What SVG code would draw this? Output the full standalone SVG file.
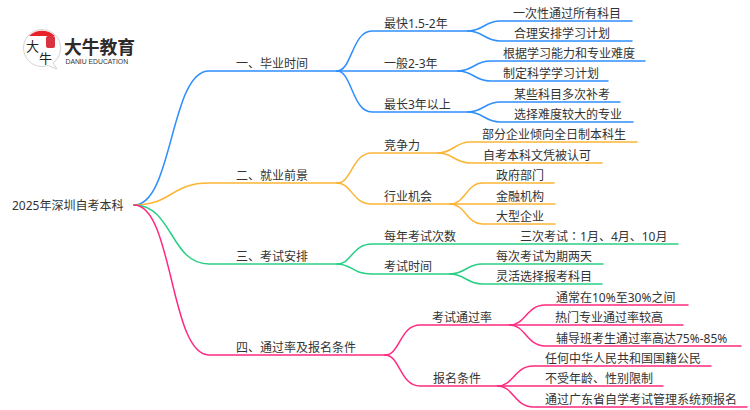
<svg xmlns="http://www.w3.org/2000/svg" width="750" height="410" viewBox="0 0 750 410">
<style>
text{font-family:"Noto Sans","Noto Sans CJK SC",sans-serif;font-size:12px;fill:#333}
.c path{fill:none;stroke-width:1.5;stroke-linecap:round}
.b path{stroke:#2f8fff}.o path{stroke:#fbb534}.g path{stroke:#28cf85}.p path{stroke:#ff2a7f}
</style>
<rect width="750" height="410" fill="#fff"/>
<g id="logo">
<path d="M42 29.500a18.500 18.500 0 1 0 6 36l9 3.500-4-6a18.500 18.500 0 0 0-11-33.500z" fill="#fff" stroke="#c9c9c9" stroke-width=".8"/>
<path d="M29 36a18.500 18.500 0 0 1 26 0z" fill="#e8242a"/>
<rect x="46" y="36" width="9" height="12" rx="2" fill="#d8333f"/>
<text x="26" y="51" style="font-size:13px;fill:#222;font-family:'Liberation Sans','Noto Sans CJK SC',sans-serif">大</text>
<text x="39" y="63" style="font-size:13px;fill:#222;font-family:'Liberation Sans','Noto Sans CJK SC',sans-serif">牛</text>
<text x="64" y="54" style="font-size:17.800px;font-weight:700;fill:#2e2a2a;font-family:'Liberation Sans','Noto Sans CJK SC',sans-serif">大牛教育</text>
<text x="65.500" y="64" style="font-size:6.800px;fill:#333;font-family:'Liberation Sans',sans-serif">DANIU EDUCATION</text>
</g>
<g id="connectors" class="c">
<g class="b">
<path d="M134 205C173 205 170 71 209 71H337"/>
<path d="M337 71C352 71 352 31 372 31H468"/><path d="M337 71H458"/><path d="M337 71C352 71 352 112 372 112H468"/>
<path d="M468 31C483 31 485 21 500 21H632"/><path d="M468 31C483 31 485 41 500 41H632"/>
<path d="M458 71C473 71 475 61 490 61H645"/><path d="M458 71C473 71 475 81 490 81H608"/>
<path d="M468 112C483 112 485 102 500 102H620"/><path d="M468 112C483 112 485 122 500 122H633"/>
</g>
<g class="o">
<path d="M134 205C173 205 170 183 209 183H337"/>
<path d="M337 183C352 183 352 153 372 153H438"/><path d="M337 183C352 183 352 204 372 204H450"/>
<path d="M438 153C453 153 455 142 470 142H637"/><path d="M438 153C453 153 455 163 470 163H602"/>
<path d="M450 204C465 204 467 183 482 183H554"/><path d="M450 204H555"/><path d="M450 204C465 204 467 224 482 224H555"/>
</g>
<g class="g">
<path d="M134 205C173 205 170 264 209 264H337"/>
<path d="M337 264C352 264 352 244 372 244H678"/><path d="M337 264C352 264 352 274 372 274H450"/>
<path d="M450 274C465 274 467 264 482 264H603"/><path d="M450 274C465 274 467 284 482 284H602"/>
</g>
<g class="p">
<path d="M134 205C173 205 170 355 209 355H385"/>
<path d="M385 355C400 355 400 325 420 325H510"/><path d="M385 355C400 355 400 386 420 386H498"/>
<path d="M510 325C525 325 527 305 545 305H688"/><path d="M510 325H683"/><path d="M510 325C525 325 527 346 545 346H741"/>
<path d="M498 386C513 386 515 366 533 366H711"/><path d="M498 386H663"/><path d="M498 386C513 386 515 407 533 407H747"/>
</g>
</g>
<g id="root"><text x="12" y="210">2025年深圳自考本科</text></g>
<g id="n1"><text x="236" y="68">一、毕业时间</text></g>
<g id="n1-1"><text x="384" y="28">最快1.5-2年</text></g>
<g id="n1-1-1"><text x="513" y="18">一次性通过所有科目</text></g>
<g id="n1-1-2"><text x="514" y="38">合理安排学习计划</text></g>
<g id="n1-2"><text x="384" y="68">一般2-3年</text></g>
<g id="n1-2-1"><text x="503" y="58">根据学习能力和专业难度</text></g>
<g id="n1-2-2"><text x="503" y="78">制定科学学习计划</text></g>
<g id="n1-3"><text x="384" y="109">最长3年以上</text></g>
<g id="n1-3-1"><text x="514" y="99">某些科目多次补考</text></g>
<g id="n1-3-2"><text x="514" y="119">选择难度较大的专业</text></g>
<g id="n2"><text x="236" y="180">二、就业前景</text></g>
<g id="n2-1"><text x="384" y="150">竞争力</text></g>
<g id="n2-1-1"><text x="482" y="139">部分企业倾向全日制本科生</text></g>
<g id="n2-1-2"><text x="483" y="160">自考本科文凭被认可</text></g>
<g id="n2-2"><text x="384" y="201">行业机会</text></g>
<g id="n2-2-1"><text x="496" y="180">政府部门</text></g>
<g id="n2-2-2"><text x="496" y="201">金融机构</text></g>
<g id="n2-2-3"><text x="496" y="221">大型企业</text></g>
<g id="n3"><text x="236" y="261">三、考试安排</text></g>
<g id="n3-1"><text x="384" y="241">每年考试次数</text></g>
<g id="n3-1-1"><text x="520" y="241">三次考试<tspan style="font-family:'Noto Sans CJK TC',sans-serif">：</tspan>1月、4月、10月</text></g>
<g id="n3-2"><text x="384" y="271">考试时间</text></g>
<g id="n3-2-1"><text x="496" y="261">每次考试为期两天</text></g>
<g id="n3-2-2"><text x="496" y="281">灵活选择报考科目</text></g>
<g id="n4"><text x="236" y="352">四、通过率及报名条件</text></g>
<g id="n4-1"><text x="432" y="322">考试通过率</text></g>
<g id="n4-1-1"><text x="556" y="302">通常在10%至30%之间</text></g>
<g id="n4-1-2"><text x="555" y="322">热门专业通过率较高</text></g>
<g id="n4-1-3"><text x="556" y="343">辅导班考生通过率高达75%-85%</text></g>
<g id="n4-2"><text x="433" y="383">报名条件</text></g>
<g id="n4-2-1"><text x="545" y="363">任何中华人民共和国国籍公民</text></g>
<g id="n4-2-2"><text x="545" y="383">不受年龄、性别限制</text></g>
<g id="n4-2-3"><text x="545" y="404">通过广东省自学考试管理系统预报名</text></g>
</svg>
